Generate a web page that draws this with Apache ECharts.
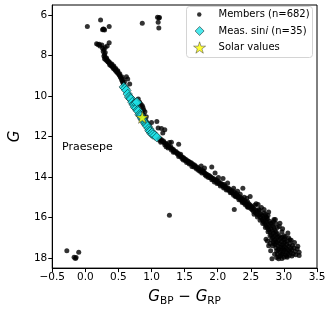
<!DOCTYPE html>
<html><head><meta charset="utf-8">
<script src="https://cdn.jsdelivr.net/npm/echarts@6/dist/echarts.min.js"></script>
<style>html,body{margin:0;padding:0;background:#fff}#c{width:330px;height:312px}</style>
</head><body><div id="c"></div>
<script>
// Tick labels
const xTicks = [-0.5, 0, 0.5, 1, 1.5, 2, 2.5, 3, 3.5];
const yTicks = [6, 8, 10, 12, 14, 16, 18];

// Cluster members [BP-RP, G]
const membersBright = [
[0.03,6.56],[0.23,6.24],[0.26,6.72],[0.28,6.7],[0.29,6.74],[0.27,6.68],[0.36,6.56],[0.86,6.4],[1.09,6.1],[1.12,6.12],[1.11,6.14],[1.1,6.35],[1.11,6.64],
[0.17,7.42],[0.19,7.45],[0.21,7.44],[0.22,7.52],[0.25,7.48],[0.36,7.36],[0.33,7.52],[0.26,7.64],[0.28,7.7],[0.3,7.6],[0.27,7.8],[0.3,7.85],[0.29,7.95],[0.28,8.02],[0.3,8.08],[0.29,8.15],[0.32,8.12],[0.31,8.22],[0.33,8.26],[0.34,8.3],[0.35,8.32],[0.36,8.38],[0.38,8.4],[0.37,8.46],[0.39,8.5],[0.4,8.48],[0.41,8.55],[0.42,8.62],[0.43,8.58],[0.44,8.66],[0.45,8.72],[0.46,8.7],[0.47,8.78],[0.48,8.83],[0.49,8.8],[0.5,8.9],[0.51,8.95],[0.52,9.0],[0.53,9.06],[0.54,9.12],[0.55,9.2],[0.56,9.28],[0.57,9.36],[0.58,9.44],[0.62,9.05],[0.64,9.16],[0.67,9.4],
[0.33,8.2],[0.36,8.3],[0.4,8.42],[0.43,8.52],[0.46,8.64],[0.49,8.75],[0.52,8.9],[0.55,9.05],[0.57,9.18],[0.59,9.3],
[0.6,9.55],[0.63,9.75],[0.65,9.9],[0.68,10.05],[0.7,10.18],[0.73,10.35],[0.75,10.5],[0.78,10.6],[0.8,10.72],[0.82,10.85],[0.85,11.0],[0.87,11.12],[0.89,11.2],[0.91,11.32],[0.94,11.45],[0.96,11.55],[0.99,11.7],[1.01,11.78],[1.04,11.88],[1.07,11.98],
[0.8,10.15],[0.82,10.3],[0.84,10.4],[0.86,10.48],[0.87,10.56],[0.88,10.68],[0.9,10.78],[0.86,10.82],[0.88,10.95],[0.92,11.02],[1.0,11.3],[1.08,11.26],[1.1,11.58],[1.15,11.6],[1.2,11.66],[1.17,11.82]
];
const membersMid = [
[1.09,12.04],[1.11,12.08],[1.13,12.12],[1.12,12.18],[1.15,12.16],[1.16,12.24],[1.18,12.22],[1.19,12.3],[1.21,12.33],[1.2,12.4],[1.23,12.38],[1.24,12.45],[1.22,12.5],[1.27,12.3],[1.3,12.28],[1.41,12.38],[1.26,12.48],[1.28,12.55],[1.29,12.5],[1.31,12.6],[1.3,12.66],[1.33,12.64],[1.34,12.7],[1.35,12.76],[1.37,12.74],[1.38,12.8],[1.39,12.86],[1.4,12.83],[1.42,12.9],[1.43,12.95],[1.44,12.88],[1.45,13.0],[1.47,13.02],[1.46,13.08],[1.49,13.06],[1.5,13.12],[1.51,13.18],[1.52,13.14],[1.54,13.2],[1.55,13.26],[1.56,13.22],[1.58,13.28],[1.59,13.34],[1.6,13.3],[1.62,13.36],[1.63,13.42],[1.61,13.48],[1.65,13.4],[1.66,13.47],[1.67,13.53],[1.69,13.5],[1.7,13.57],[1.72,13.6],[1.71,13.66],[1.74,13.64],[1.75,13.7],[1.77,13.68],[1.78,13.76],[1.79,13.72],[1.8,13.8],[1.82,13.84],[1.81,13.9],[1.84,13.88],[1.85,13.94],[1.87,13.92],[1.88,13.98],[1.89,14.04],[1.9,14.0],[1.92,14.06],[1.93,14.12],[1.94,14.08],[1.96,14.15],[1.97,14.2],[1.98,14.14],[2.0,14.24],[2.01,14.3],[2.02,14.22],[2.03,14.34],[2.05,14.32],[2.06,14.4],[2.07,14.36],[2.08,14.46],[2.1,14.44],[2.11,14.52],[2.12,14.48],[2.14,14.56],[2.15,14.62],[2.16,14.54],[2.17,14.66],[2.18,14.6],[2.2,14.7],[2.21,14.76],[2.22,14.68],[2.23,14.8],[2.25,14.74],[2.26,14.86],[2.27,14.92],[2.28,14.82],[2.29,14.96],[2.3,14.9],[2.31,15.02],[2.33,14.98],[2.34,15.08],[2.35,15.14],[2.36,15.04],[2.37,15.18],[2.38,15.12],[2.39,15.24],[2.4,15.3],[2.41,15.16],[2.43,15.26],[2.44,15.36],[2.45,15.22],[2.46,15.42],[2.47,15.32],[2.48,15.48],[2.49,15.38],[2.5,15.56],
[1.14,12.28],[1.25,12.56],[1.33,12.78],[1.41,12.98],[1.48,13.16],[1.53,13.28],[1.57,13.36],[1.64,13.5],[1.68,13.6],[1.73,13.72],[1.76,13.8],[1.83,13.96],[1.86,14.02],[1.91,14.14],[1.95,14.24],[1.99,14.32],[2.04,14.44],[2.09,14.54],[2.13,14.64],[2.19,14.78],[2.24,14.9],[2.27,14.98],[2.32,15.12],[2.37,15.26],[2.42,15.38],[2.45,15.48],
[1.91,13.5],[1.96,13.8],[2.01,14.02],[2.08,14.07],[2.1,14.37],[2.24,14.55],[2.38,14.55],[2.34,14.85],[2.49,14.96],[2.4,15.0],[2.46,15.49],[2.25,15.6],[1.75,13.45],[1.8,13.55],[2.15,14.3],[2.3,14.7],[2.44,15.05]
];
const membersFaint = [
[2.51,15.44],[2.52,15.62],[2.53,15.5],[2.54,15.7],[2.55,15.58],[2.56,15.4],[2.57,15.76],[2.58,15.64],[2.59,15.84],[2.6,15.7],[2.61,15.36],[2.62,15.9],[2.62,15.6],[2.63,15.65],[2.64,15.8],[2.65,16.0],[2.66,15.86],[2.67,16.1],[2.68,15.94],[2.69,16.2],[2.7,16.04],[2.7,15.78],[2.71,16.3],[2.72,16.14],[2.73,16.4],[2.73,15.96],[2.74,16.24],[2.75,16.5],[2.75,16.08],[2.76,16.34],[2.77,15.73],[2.77,16.6],[2.78,16.18],[2.78,16.44],[2.79,16.72],[2.8,16.28],[2.8,16.54],[2.81,16.86],[2.82,16.3],[2.82,16.66],[2.83,17.0],[2.83,16.42],[2.84,16.76],[2.84,17.2],[2.85,16.5],[2.85,16.94],[2.86,17.1],[2.86,16.62],[2.87,17.34],[2.87,16.84],[2.88,17.5],[2.88,16.7],[2.89,17.04],[2.89,17.66],[2.9,16.8],[2.9,17.24],[2.9,17.8],[2.91,16.96],[2.91,17.4],[2.92,17.94],[2.92,17.14],[2.93,16.9],[2.93,17.56],[2.94,16.29],[2.94,17.3],[2.94,17.72],[2.95,17.02],[2.95,17.46],[2.95,17.9],[2.96,17.18],[2.96,17.62],[2.97,17.36],[2.97,18.02],[2.97,16.98],[2.98,17.52],[2.98,17.8],[2.99,17.1],[2.99,17.68],[3.0,17.28],[3.0,17.44],[3.0,17.96],[3.01,17.06],[3.01,17.6],[3.02,17.84],[3.02,17.22],[3.03,17.5],[3.03,17.7],[3.04,17.34],[3.04,17.92],[3.05,17.16],[3.05,17.58],[3.06,16.77],[3.06,17.78],[3.07,17.42],[3.07,17.0],[3.08,17.64],[3.08,17.86],[3.09,17.3],[3.1,17.52],[3.1,17.72],[3.11,17.12],[3.12,17.6],[3.12,17.9],[3.13,17.38],[3.14,17.8],[3.15,17.5],[3.16,17.24],[3.17,17.68],[3.18,17.84],[3.2,17.56],[3.21,17.42],[3.23,17.72],[3.23,17.88],
[2.83,17.4],[2.77,17.4],[2.73,17.08],[2.8,17.64],[2.82,18.04],[2.75,17.16],[2.79,17.28],[2.86,17.82],[2.89,17.98],[2.92,18.04],[3.0,16.9],[2.97,16.7],[2.9,16.5],[2.84,16.2],[2.76,15.9],[2.7,15.6],[2.88,16.3],[3.02,16.95],[2.98,16.55],[2.93,16.45],[2.87,16.1],[2.66,15.5],[2.74,16.0],[2.58,15.32],
[2.55,15.84],[2.6,15.98],[2.64,16.14],[2.68,16.3],[2.72,16.5],[2.76,16.7],[2.79,16.9],[2.81,17.1],[2.85,17.3],[2.88,17.2],[2.91,17.6],[2.96,17.82],[3.05,17.96],[3.09,17.1],[2.85,16.1],[2.72,15.85]
];
const membersOutliers = [[1.27,15.89],[-0.28,17.64],[-0.17,17.96],[-0.15,18.02],[-0.14,17.98],[-0.1,17.72]];

// Stars with measured v sin i
const vsiniStars = [
[0.58,9.55],[0.6,9.62],[0.62,9.72],[0.64,9.9],[0.66,10.05],[0.68,10.1],[0.69,10.15],[0.71,10.3],[0.73,10.4],[0.74,10.45],[0.75,10.55],[0.76,10.35],[0.77,10.6],[0.78,10.3],[0.79,10.7],[0.8,10.75],[0.82,10.9],[0.83,10.95],[0.84,11.0],[0.86,11.1],[0.87,11.15],[0.88,11.2],[0.9,11.3],[0.91,11.35],[0.92,11.4],[0.93,11.45],[0.94,11.5],[0.96,11.6],[0.97,11.7],[0.98,11.75],[1.0,11.85],[1.01,11.8],[1.02,11.9],[1.05,11.95],[1.08,12.03]
];
const solarValues = [[0.86,11.05]];

const F = 'DejaVu Sans';
const members = membersBright.concat(membersMid, membersFaint, membersOutliers);
const starPath = 'path://M50,0 L61.2,34.5 L97.6,34.5 L68.2,55.9 L79.4,90.5 L50,69.1 L20.6,90.5 L31.8,55.9 L2.4,34.5 L38.8,34.5 Z';
function legText(pad){
  return {color:'#000', fontFamily:F, fontSize:10, padding:[0,0,0,pad],
    rich:{a:{color:'#000',fontFamily:F,fontSize:10,padding:[0,0,0,0]},b:{color:'#000',fontFamily:F,fontSize:10,fontStyle:'italic'}}};
}
const cyan = '#1fe3e8';

const chart = echarts.init(document.getElementById('c'));
chart.setOption({
  animation:false,
  grid:{left:38,right:13,top:5,bottom:36,show:true,borderColor:'#000',borderWidth:1,backgroundColor:'transparent'},
  xAxis:{type:'value',min:-0.5,max:3.5,interval:0.5,
    axisLine:{onZero:false,lineStyle:{color:'#000',width:1}},
    axisTick:{length:4,lineStyle:{color:'#000'}},
    axisLabel:{color:'#000',fontFamily:F,fontSize:10.5,margin:4,formatter:v=>v.toFixed(1).replace('-','\u2212')},
    splitLine:{show:false},
    name:'{g|G}{s|BP}{n| \u2212 }{g|G}{s|RP}',nameLocation:'middle',nameGap:13,
    nameTextStyle:{rich:{
      g:{fontFamily:F,fontSize:15,fontStyle:'italic',color:'#000',lineHeight:20,verticalAlign:'middle'},
      n:{fontFamily:F,fontSize:15,color:'#000',lineHeight:20,verticalAlign:'middle'},
      s:{fontFamily:F,fontSize:10.5,color:'#000',lineHeight:20,verticalAlign:'middle',padding:[8,0,0,0]}
    }}
  },
  yAxis:{type:'value',inverse:true,min:5.5,max:18.5,
    axisLine:{onZero:false,lineStyle:{color:'#000',width:1}},
    axisTick:{length:4,customValues:yTicks,lineStyle:{color:'#000'}},
    axisLabel:{color:'#000',fontFamily:F,fontSize:10.5,margin:5,customValues:yTicks},
    splitLine:{show:false},
    name:'G',nameLocation:'middle',nameGap:28,nameRotate:90,
    nameTextStyle:{fontFamily:F,fontSize:15,fontStyle:'italic',color:'#000'}
  },
  graphic:[
    {type:'rect',z:50,shape:{x:186.5,y:6.5,width:126,height:51,r:3},style:{fill:'rgba(255,255,255,0.85)',stroke:'#d4d4d4',lineWidth:1}},
    {type:'text',z:50,left:62,top:142,style:{text:'Praesepe',fontFamily:F,fontSize:11,fill:'#000'}}
  ],
  legend:[
    {z:60,left:197,top:9.5,padding:0,itemWidth:4.5,itemHeight:4.5,itemGap:0,textStyle:legText(12),
     data:[{name:'Members (n=682)',icon:'circle',itemStyle:{color:'#000',borderWidth:0}}]},
    {z:60,left:194.8,top:26,padding:0,itemWidth:9,itemHeight:9,itemGap:0,textStyle:legText(9.5),
     formatter:()=>'{a|Meas. sin}{b|i}{a| (n=35)}',
     data:[{name:'vsini',icon:'diamond',itemStyle:{color:cyan,borderColor:'#000',borderWidth:0.6}}]},
    {z:60,left:193.3,top:41.5,padding:0,itemWidth:12,itemHeight:12,itemGap:0,textStyle:legText(8),
     data:[{name:'Solar values',icon:starPath,itemStyle:{color:'#ffff00',borderColor:'#333',borderWidth:0.6}}]}
  ],
  series:[
    {name:'Members (n=682)',type:'scatter',data:members,symbol:'circle',symbolSize:5,
     itemStyle:{color:'#000'},z:2},
    {name:'vsini',type:'scatter',data:vsiniStars,symbol:'diamond',symbolSize:9.5,
     itemStyle:{color:cyan,borderColor:'#000',borderWidth:0.6},z:3},
    {name:'Solar values',type:'scatter',data:solarValues,symbol:starPath,symbolSize:12,
     itemStyle:{color:'#ffff00',borderColor:'#333',borderWidth:0.6},z:4}
  ]
});
</script></body></html>
